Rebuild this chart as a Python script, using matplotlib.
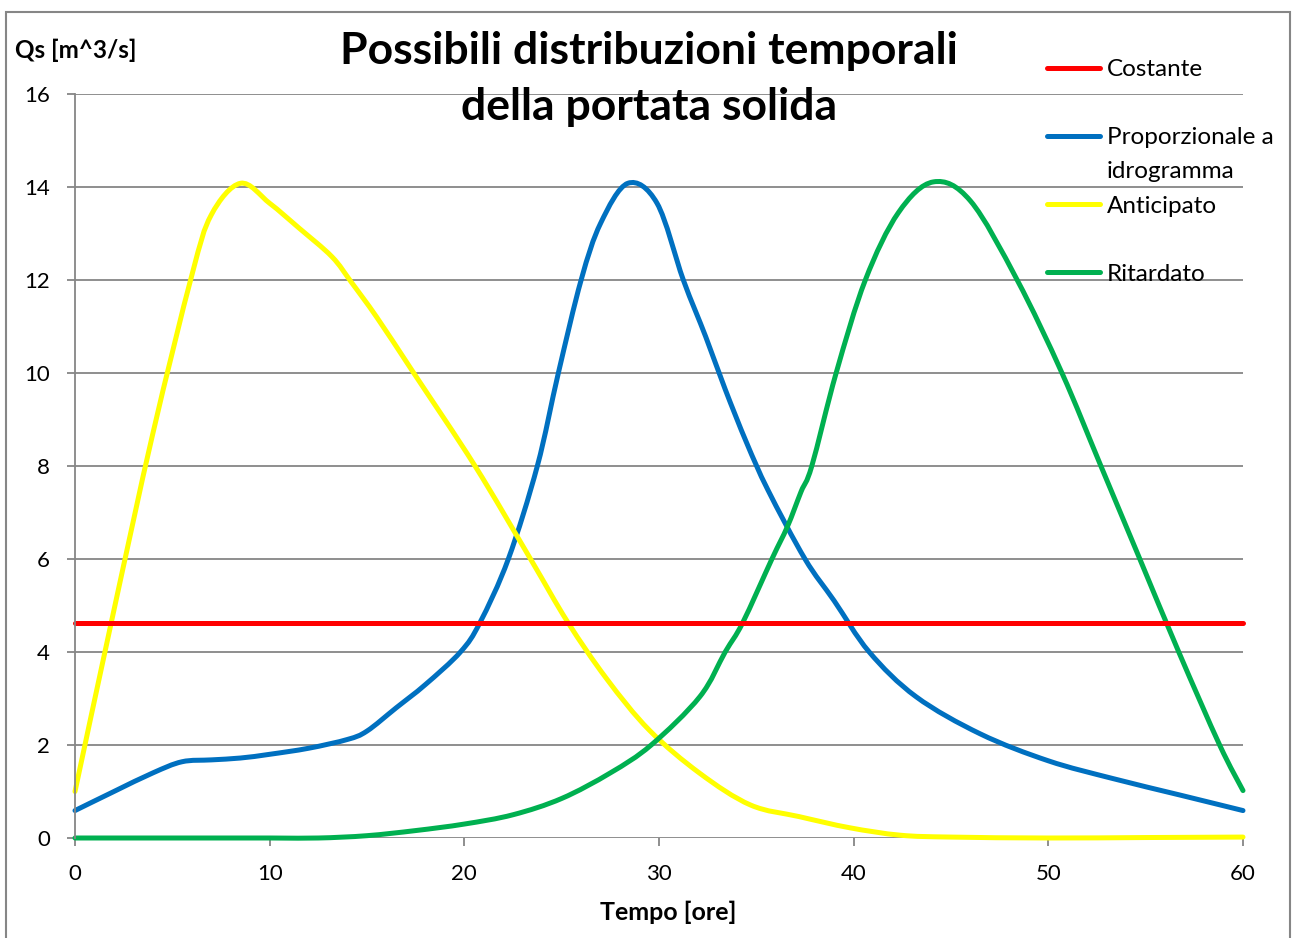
import numpy as np
import matplotlib
matplotlib.use("Agg")
import matplotlib.pyplot as plt
from matplotlib.path import Path
from matplotlib.patches import PathPatch, Rectangle
from matplotlib.lines import Line2D

plt.rcParams['font.family'] = ['Lato', 'DejaVu Sans']

# portata solida costante [m^3/s]
t_costante = [0, 60]
q_costante = [4.63, 4.63]

# proporzionale all'idrogramma
t_idro = [0, 2, 4, 5.5, 7, 8.5, 10, 12, 14, 15, 16.5, 18, 19.8, 20.8, 22.26, 23.75, 24.83,
          26, 27, 28.4, 29.9, 31.25, 32.4, 33.4, 34.5, 35.6, 37.5, 39, 40.8, 43.2, 46.5, 50,
          53.3, 56.8, 60]
q_idro = [0.59, 1.0, 1.4, 1.64, 1.68, 1.72, 1.8, 1.93, 2.12, 2.3, 2.8, 3.3, 4.0, 4.63, 6.0,
          8.0, 10.0, 12.0, 13.22, 14.08, 13.65, 12.0, 10.78, 9.65, 8.5, 7.48, 6.0, 5.1, 4.0,
          3.04, 2.24, 1.66, 1.28, 0.92, 0.59]

# anticipato
t_anticipato = [0, 2, 4, 6, 7, 8.5, 10, 11.5, 13.2, 14.2, 15.5, 17.4, 20.55, 23.4, 25.3,
                27.3, 29.5, 32.1, 34.7, 37.2, 39.8, 42.4, 45, 50, 55, 60]
q_anticipato = [1.0, 4.9, 8.7, 12.1, 13.4, 14.08, 13.65, 13.12, 12.5, 11.95, 11.2, 10.0, 8.0,
                6.0, 4.65, 3.43, 2.32, 1.39, 0.71, 0.46, 0.22, 0.06, 0.02, 0.0, 0.01, 0.02]

# ritardato
t_ritardato = [0, 5, 10, 12.5, 15, 17.5, 20, 22.5, 25, 27.5, 29.6, 32.1, 33.4, 34.3, 35.8,
               36.6, 37.3, 37.85, 39.1, 40.6, 42.3, 44.1, 46, 48.4, 50.7, 52.7, 54.7, 56.7,
               58.8, 60]
q_ritardato = [0.0, 0.0, 0.0, 0.0, 0.05, 0.16, 0.3, 0.5, 0.85, 1.4, 2.0, 3.04, 4.0, 4.63,
               6.0, 6.7, 7.45, 8.0, 10.0, 12.0, 13.45, 14.11, 13.7, 12.0, 10.0, 8.0, 6.0, 4.0,
               2.0, 1.02]

GRIGIO = '#868686'
LW = 3.6


def excel_smooth(x, y):
    # curva smussata tipo Excel (Bezier con tangenti di Catmull-Rom)
    p = np.column_stack([x, y]).astype(float)
    n = len(p)
    verts = [p[0]]
    codes = [Path.MOVETO]
    for i in range(n - 1):
        p0 = p[max(i - 1, 0)]
        p1 = p[i]
        p2 = p[i + 1]
        p3 = p[min(i + 2, n - 1)]
        verts += [p1 + (p2 - p0) / 6, p2 - (p3 - p1) / 6, p2]
        codes += [Path.CURVE4] * 3
    return Path(verts, codes)


fig = plt.figure(figsize=(12.94, 9.38), dpi=100)
ax = fig.add_axes([75 / 1294, 1 - 838 / 938, (1243 - 75) / 1294, (838 - 94) / 938])

ax.set_xlim(0, 60)
ax.set_ylim(0, 16)
ax.set_xticks(range(0, 61, 10))
ax.set_yticks(range(0, 17, 2))
ax.grid(axis='y', color=GRIGIO, linewidth=1.3)
ax.set_axisbelow(True)
for s in ['top', 'right', 'bottom']:
    ax.spines[s].set_visible(False)
ax.spines['left'].set_color(GRIGIO)
ax.spines['left'].set_linewidth(1.3)
ax.tick_params(axis='both', direction='out', length=6, width=1.3, color=GRIGIO,
               labelsize=16)
ax.tick_params(axis='y', pad=12)
ax.tick_params(axis='x', pad=13)

ax.plot(t_costante, q_costante, color='#FF0000', lw=LW, solid_capstyle='round', clip_on=False)
serie = [(t_idro, q_idro, '#0070C0'),
         (t_anticipato, q_anticipato, '#FFFF00'),
         (t_ritardato, q_ritardato, '#00B050')]
for tt, qq, col in serie:
    ax.add_patch(PathPatch(excel_smooth(tt, qq), facecolor='none', edgecolor=col, lw=LW,
                           capstyle='round', joinstyle='round', clip_on=False))

ax.set_xlabel('Tempo [ore]', fontsize=18, fontweight='bold')
ax.xaxis.set_label_coords((668 - 75) / 1168, -0.084)

fig.text(15 / 1294, 1 - 50 / 938, 'Qs [m^3/s]', fontsize=17.5, fontweight='bold',
         ha='left', va='center')
fig.text(649 / 1294, 1 - 79 / 938, 'Possibili distribuzioni temporali\ndella portata solida',
         fontsize=32, fontweight='bold', ha='center', va='center', linespacing=1.5)

# legenda: righe vuote per riprodurre la spaziatura originale
vuoto = Line2D([], [], color='none')
handles = [Line2D([], [], color='#FF0000', lw=LW, solid_capstyle='round'), vuoto,
           Line2D([], [], color='#0070C0', lw=LW, solid_capstyle='round'), vuoto,
           Line2D([], [], color='#FFFF00', lw=LW, solid_capstyle='round'), vuoto,
           Line2D([], [], color='#00B050', lw=LW, solid_capstyle='round')]
labels = ['Costante', ' ', 'Proporzionale a', 'idrogramma', 'Anticipato', ' ', 'Ritardato']
leg = fig.legend(handles, labels, loc='upper left', bbox_to_anchor=(1047 / 1294, 1 - 59 / 938),
                 frameon=False, fontsize=17.5, handlelength=2.2, handletextpad=0.25,
                 labelspacing=0.54, borderaxespad=0, borderpad=0)

fig.patches.append(Rectangle((6 / 1294, -0.01), (1290 - 6) / 1294, (938 - 12) / 938 + 0.01,
                             transform=fig.transFigure, fill=False, edgecolor=GRIGIO, lw=1.5))

fig.savefig('out.png', dpi=100)
